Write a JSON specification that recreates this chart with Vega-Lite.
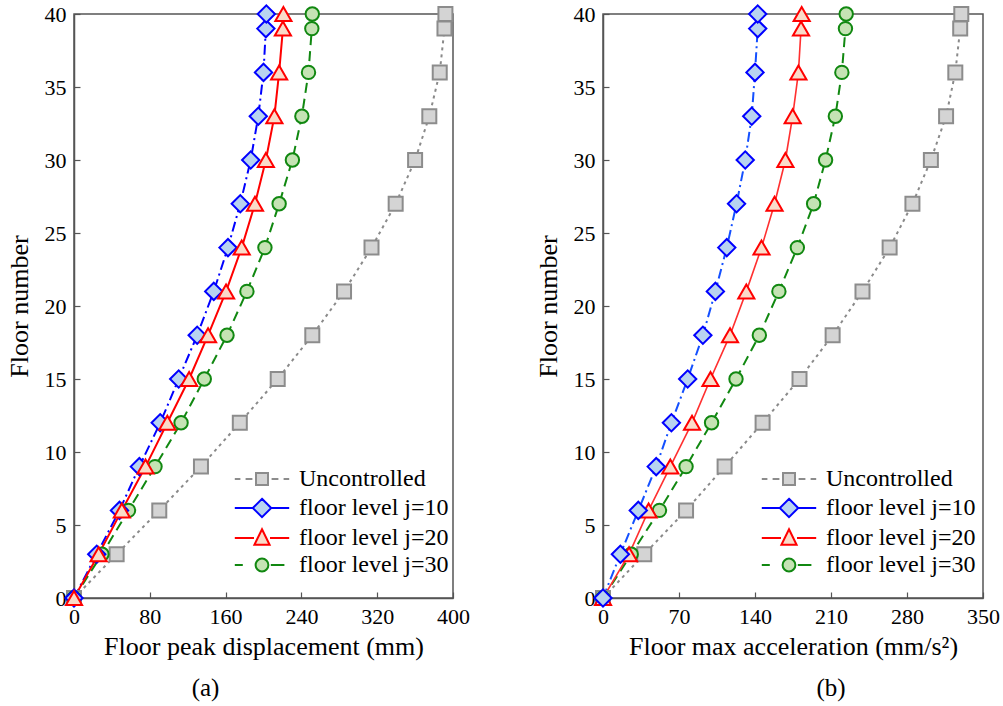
{
  "$schema": "https://vega.github.io/schema/vega-lite/v6.json",
  "padding": {"left": 5, "top": 0, "right": 0, "bottom": 0},
  "datasets": {
    "disp": [
      {"floor": 0, "value": 0, "series": "Uncontrolled"},
      {"floor": 3, "value": 45, "series": "Uncontrolled"},
      {"floor": 6, "value": 90, "series": "Uncontrolled"},
      {"floor": 9, "value": 134, "series": "Uncontrolled"},
      {"floor": 12, "value": 175, "series": "Uncontrolled"},
      {"floor": 15, "value": 215, "series": "Uncontrolled"},
      {"floor": 18, "value": 251.5, "series": "Uncontrolled"},
      {"floor": 21, "value": 285, "series": "Uncontrolled"},
      {"floor": 24, "value": 314, "series": "Uncontrolled"},
      {"floor": 27, "value": 339.5, "series": "Uncontrolled"},
      {"floor": 30, "value": 360, "series": "Uncontrolled"},
      {"floor": 33, "value": 375, "series": "Uncontrolled"},
      {"floor": 36, "value": 386, "series": "Uncontrolled"},
      {"floor": 39, "value": 391, "series": "Uncontrolled"},
      {"floor": 40, "value": 392, "series": "Uncontrolled"},
      {"floor": 0, "value": 0, "series": "floor level j=10"},
      {"floor": 3, "value": 24, "series": "floor level j=10"},
      {"floor": 6, "value": 48, "series": "floor level j=10"},
      {"floor": 9, "value": 69, "series": "floor level j=10"},
      {"floor": 12, "value": 91, "series": "floor level j=10"},
      {"floor": 15, "value": 110.5, "series": "floor level j=10"},
      {"floor": 18, "value": 130, "series": "floor level j=10"},
      {"floor": 21, "value": 147.5, "series": "floor level j=10"},
      {"floor": 24, "value": 162.5, "series": "floor level j=10"},
      {"floor": 27, "value": 175.5, "series": "floor level j=10"},
      {"floor": 30, "value": 186.5, "series": "floor level j=10"},
      {"floor": 33, "value": 194.5, "series": "floor level j=10"},
      {"floor": 36, "value": 200, "series": "floor level j=10"},
      {"floor": 39, "value": 202.5, "series": "floor level j=10"},
      {"floor": 40, "value": 203, "series": "floor level j=10"},
      {"floor": 0, "value": 0, "series": "floor level j=20"},
      {"floor": 3, "value": 26, "series": "floor level j=20"},
      {"floor": 6, "value": 50.5, "series": "floor level j=20"},
      {"floor": 9, "value": 75.5, "series": "floor level j=20"},
      {"floor": 12, "value": 98.5, "series": "floor level j=20"},
      {"floor": 15, "value": 121.5, "series": "floor level j=20"},
      {"floor": 18, "value": 141.5, "series": "floor level j=20"},
      {"floor": 21, "value": 160.5, "series": "floor level j=20"},
      {"floor": 24, "value": 177, "series": "floor level j=20"},
      {"floor": 27, "value": 191, "series": "floor level j=20"},
      {"floor": 30, "value": 202.5, "series": "floor level j=20"},
      {"floor": 33, "value": 211.5, "series": "floor level j=20"},
      {"floor": 36, "value": 216.5, "series": "floor level j=20"},
      {"floor": 39, "value": 220.5, "series": "floor level j=20"},
      {"floor": 40, "value": 221, "series": "floor level j=20"},
      {"floor": 0, "value": 0, "series": "floor level j=30"},
      {"floor": 3, "value": 29.5, "series": "floor level j=30"},
      {"floor": 6, "value": 57.5, "series": "floor level j=30"},
      {"floor": 9, "value": 85.5, "series": "floor level j=30"},
      {"floor": 12, "value": 113, "series": "floor level j=30"},
      {"floor": 15, "value": 137.5, "series": "floor level j=30"},
      {"floor": 18, "value": 161.5, "series": "floor level j=30"},
      {"floor": 21, "value": 182.5, "series": "floor level j=30"},
      {"floor": 24, "value": 201.5, "series": "floor level j=30"},
      {"floor": 27, "value": 216.5, "series": "floor level j=30"},
      {"floor": 30, "value": 230.5, "series": "floor level j=30"},
      {"floor": 33, "value": 240.5, "series": "floor level j=30"},
      {"floor": 36, "value": 247.5, "series": "floor level j=30"},
      {"floor": 39, "value": 251, "series": "floor level j=30"},
      {"floor": 40, "value": 251.5, "series": "floor level j=30"}
    ],
    "acc": [
      {"floor": 0, "value": 0, "series": "Uncontrolled"},
      {"floor": 3, "value": 38, "series": "Uncontrolled"},
      {"floor": 6, "value": 76.5, "series": "Uncontrolled"},
      {"floor": 9, "value": 112, "series": "Uncontrolled"},
      {"floor": 12, "value": 147, "series": "Uncontrolled"},
      {"floor": 15, "value": 181, "series": "Uncontrolled"},
      {"floor": 18, "value": 211.5, "series": "Uncontrolled"},
      {"floor": 21, "value": 239, "series": "Uncontrolled"},
      {"floor": 24, "value": 264, "series": "Uncontrolled"},
      {"floor": 27, "value": 285, "series": "Uncontrolled"},
      {"floor": 30, "value": 302, "series": "Uncontrolled"},
      {"floor": 33, "value": 316, "series": "Uncontrolled"},
      {"floor": 36, "value": 324.5, "series": "Uncontrolled"},
      {"floor": 39, "value": 329, "series": "Uncontrolled"},
      {"floor": 40, "value": 330, "series": "Uncontrolled"},
      {"floor": 0, "value": 0, "series": "floor level j=10"},
      {"floor": 3, "value": 16, "series": "floor level j=10"},
      {"floor": 6, "value": 32.5, "series": "floor level j=10"},
      {"floor": 9, "value": 49, "series": "floor level j=10"},
      {"floor": 12, "value": 63, "series": "floor level j=10"},
      {"floor": 15, "value": 78, "series": "floor level j=10"},
      {"floor": 18, "value": 92, "series": "floor level j=10"},
      {"floor": 21, "value": 103.5, "series": "floor level j=10"},
      {"floor": 24, "value": 114, "series": "floor level j=10"},
      {"floor": 27, "value": 123, "series": "floor level j=10"},
      {"floor": 30, "value": 131, "series": "floor level j=10"},
      {"floor": 33, "value": 137, "series": "floor level j=10"},
      {"floor": 36, "value": 140, "series": "floor level j=10"},
      {"floor": 39, "value": 142.5, "series": "floor level j=10"},
      {"floor": 40, "value": 142.5, "series": "floor level j=10"},
      {"floor": 0, "value": 0, "series": "floor level j=20"},
      {"floor": 3, "value": 24, "series": "floor level j=20"},
      {"floor": 6, "value": 42, "series": "floor level j=20"},
      {"floor": 9, "value": 62, "series": "floor level j=20"},
      {"floor": 12, "value": 82, "series": "floor level j=20"},
      {"floor": 15, "value": 99, "series": "floor level j=20"},
      {"floor": 18, "value": 117, "series": "floor level j=20"},
      {"floor": 21, "value": 132, "series": "floor level j=20"},
      {"floor": 24, "value": 146, "series": "floor level j=20"},
      {"floor": 27, "value": 158, "series": "floor level j=20"},
      {"floor": 30, "value": 168, "series": "floor level j=20"},
      {"floor": 33, "value": 174.7, "series": "floor level j=20"},
      {"floor": 36, "value": 180, "series": "floor level j=20"},
      {"floor": 39, "value": 182.4, "series": "floor level j=20"},
      {"floor": 40, "value": 183, "series": "floor level j=20"},
      {"floor": 0, "value": 0, "series": "floor level j=30"},
      {"floor": 3, "value": 26, "series": "floor level j=30"},
      {"floor": 6, "value": 52, "series": "floor level j=30"},
      {"floor": 9, "value": 76.5, "series": "floor level j=30"},
      {"floor": 12, "value": 100, "series": "floor level j=30"},
      {"floor": 15, "value": 122.5, "series": "floor level j=30"},
      {"floor": 18, "value": 144, "series": "floor level j=30"},
      {"floor": 21, "value": 162, "series": "floor level j=30"},
      {"floor": 24, "value": 179, "series": "floor level j=30"},
      {"floor": 27, "value": 194, "series": "floor level j=30"},
      {"floor": 30, "value": 205, "series": "floor level j=30"},
      {"floor": 33, "value": 214, "series": "floor level j=30"},
      {"floor": 36, "value": 220, "series": "floor level j=30"},
      {"floor": 39, "value": 223.3, "series": "floor level j=30"},
      {"floor": 40, "value": 224, "series": "floor level j=30"}
    ]
  },
  "config": {
    "font": "Liberation Serif",
    "view": {"stroke": "#555555", "strokeWidth": 1.5},
    "axis": {
      "grid": false,
      "labelFont": "Liberation Serif",
      "labelFontSize": 22,
      "labelColor": "#000000",
      "titleFont": "Liberation Serif",
      "titleFontSize": 26,
      "titleFontWeight": "normal",
      "titleColor": "#000000",
      "domainColor": "#555555",
      "domainWidth": 1.5,
      "tickColor": "#555555",
      "tickWidth": 1.2,
      "tickSize": -6,
      "labelFlush": false
    },
    "axisX": {"labelPadding": 14, "titlePadding": 6},
    "axisY": {"labelPadding": 14, "titlePadding": 12},
    "legend": {"orient": "none", "legendY": 453, "title": null, "symbolSize": 256, "symbolStrokeWidth": 2, "symbolOffset": 18, "labelOffset": 25, "labelFont": "Liberation Serif", "labelFontSize": 24, "labelColor": "#000000", "rowPadding": 3, "padding": 0, "symbolOpacity": 1},
    "title": {"font": "Liberation Serif", "fontSize": 25, "fontWeight": "normal", "color": "#000000"}
  },
  "spacing": 63,
  "resolve": {
    "scale": {"stroke": "independent", "fill": "independent", "shape": "independent"},
    "legend": {"stroke": "independent", "fill": "independent", "shape": "independent"}
  },
  "hconcat": [
    {
      "width": 379,
      "height": 584,
      "title": {"text": "(a)", "orient": "bottom", "offset": 17, "anchor": "middle", "frame": "group", "dx": -58},
      "data": {"name": "disp"},
      "encoding": {
        "x": {"field": "value", "type": "quantitative", "scale": {"domain": [0, 400], "nice": false}, "axis": {"values": [0, 80, 160, 240, 320, 400], "title": "Floor peak displacement (mm)"}},
        "y": {"field": "floor", "type": "quantitative", "scale": {"domain": [0, 40], "nice": false}, "axis": {"values": [0, 5, 10, 15, 20, 25, 30, 35, 40], "title": "Floor number"}},
        "order": {"field": "floor", "type": "quantitative"}
      },
      "layer": [
        {"transform": [{"filter": {"field": "series", "equal": "Uncontrolled"}}], "mark": {"type": "line", "stroke": "#8a8a8a", "strokeWidth": 2, "strokeDash": [3, 4], "clip": false}},
        {"transform": [{"filter": {"field": "series", "equal": "floor level j=30"}}], "mark": {"type": "line", "stroke": "#118811", "strokeWidth": 2, "strokeDash": [10, 6], "clip": false}},
        {"transform": [{"filter": {"field": "series", "equal": "floor level j=10"}}], "mark": {"type": "line", "stroke": "#0000ff", "strokeWidth": 2, "strokeDash": [10, 4, 2, 4], "clip": false}},
        {"transform": [{"filter": {"field": "series", "equal": "floor level j=20"}}], "mark": {"type": "line", "stroke": "#ff0000", "strokeWidth": 2, "clip": false}},
        {"transform": [{"filter": {"field": "series", "equal": "Uncontrolled"}}], "mark": {"type": "point", "shape": "square", "size": 196, "strokeWidth": 2, "stroke": "#8c8c8c", "fill": "#d4d4d4", "opacity": 1, "clip": false}},
        {"transform": [{"filter": {"field": "series", "equal": "floor level j=30"}}], "mark": {"type": "point", "shape": "circle", "size": 180, "strokeWidth": 2, "stroke": "#118811", "fill": "#c5e3b4", "opacity": 1, "clip": false}},
        {"transform": [{"filter": {"field": "series", "equal": "floor level j=10"}}], "mark": {"type": "point", "shape": "diamond", "size": 300, "strokeWidth": 2, "stroke": "#0000ff", "fill": "#b8d3f0", "opacity": 1, "clip": false}},
        {"transform": [{"filter": {"field": "series", "equal": "floor level j=20"}}], "mark": {"type": "point", "shape": "triangle-up", "size": 260, "strokeWidth": 2, "stroke": "#ff0000", "fill": "#fadbc9", "opacity": 1, "clip": false}},
        {
          "transform": [{"filter": "datum.floor < 0"}],
          "mark": {"type": "point", "opacity": 1, "strokeWidth": 2},
          "encoding": {
            "shape": {"field": "series", "type": "nominal", "scale": {"domain": ["Uncontrolled", "floor level j=10", "floor level j=20", "floor level j=30"], "range": ["M-3.4,0H-2.7M-2.05,0H-1.2M1.2,0H2.05M2.7,0H3.4M-0.75,-0.75H0.75V0.75H-0.75Z", "M-3.4,0H-1.15M1.15,0H3.4M0,-1.15L1.15,0L0,1.15L-1.15,0Z", "M-3.4,0H-1M1,0H3.4M0,-1.1L0.95,0.85H-0.95Z", "M-3.4,0H-2.4M1.1,0H2.8M-0.8,0A0.8,0.8 0 1,0 0.8,0A0.8,0.8 0 1,0 -0.8,0Z"]}, "legend": {"legendX": 158}},
            "stroke": {"field": "series", "type": "nominal", "scale": {"domain": ["Uncontrolled", "floor level j=10", "floor level j=20", "floor level j=30"], "range": ["#8c8c8c", "#0000ff", "#ff0000", "#118811"]}, "legend": {"legendX": 158}},
            "fill": {"field": "series", "type": "nominal", "scale": {"domain": ["Uncontrolled", "floor level j=10", "floor level j=20", "floor level j=30"], "range": ["#d4d4d4", "#b8d3f0", "#fadbc9", "#c5e3b4"]}, "legend": {"legendX": 158}}
          }
        }
      ]
    },
    {
      "width": 380,
      "height": 584,
      "title": {"text": "(b)", "orient": "bottom", "offset": 17, "anchor": "middle", "frame": "group", "dx": 38},
      "data": {"name": "acc"},
      "encoding": {
        "x": {"field": "value", "type": "quantitative", "scale": {"domain": [0, 350], "nice": false}, "axis": {"values": [0, 70, 140, 210, 280, 350], "title": "Floor max acceleration (mm/s²)"}},
        "y": {"field": "floor", "type": "quantitative", "scale": {"domain": [0, 40], "nice": false}, "axis": {"values": [0, 5, 10, 15, 20, 25, 30, 35, 40], "title": "Floor number"}},
        "order": {"field": "floor", "type": "quantitative"}
      },
      "layer": [
        {"transform": [{"filter": {"field": "series", "equal": "Uncontrolled"}}], "mark": {"type": "line", "stroke": "#8a8a8a", "strokeWidth": 2, "strokeDash": [3, 4], "clip": false}},
        {"transform": [{"filter": {"field": "series", "equal": "floor level j=30"}}], "mark": {"type": "line", "stroke": "#118811", "strokeWidth": 2, "strokeDash": [10, 6], "clip": false}},
        {"transform": [{"filter": {"field": "series", "equal": "floor level j=10"}}], "mark": {"type": "line", "stroke": "#1450ff", "strokeWidth": 2, "strokeDash": [10, 4, 2, 4], "clip": false}},
        {"transform": [{"filter": {"field": "series", "equal": "floor level j=20"}}], "mark": {"type": "line", "stroke": "#ff3030", "strokeWidth": 1.6, "clip": false}},
        {"transform": [{"filter": {"field": "series", "equal": "Uncontrolled"}}], "mark": {"type": "point", "shape": "square", "size": 196, "strokeWidth": 2, "stroke": "#8c8c8c", "fill": "#d4d4d4", "opacity": 1, "clip": false}},
        {"transform": [{"filter": {"field": "series", "equal": "floor level j=30"}}], "mark": {"type": "point", "shape": "circle", "size": 180, "strokeWidth": 2, "stroke": "#118811", "fill": "#c5e3b4", "opacity": 1, "clip": false}},
        {"transform": [{"filter": {"field": "series", "equal": "floor level j=20"}}], "mark": {"type": "point", "shape": "triangle-up", "size": 260, "strokeWidth": 2, "stroke": "#ff0000", "fill": "#fadbc9", "opacity": 1, "clip": false}},
        {"transform": [{"filter": {"field": "series", "equal": "floor level j=10"}}], "mark": {"type": "point", "shape": "diamond", "size": 300, "strokeWidth": 2, "stroke": "#0000ff", "fill": "#b8d3f0", "opacity": 1, "clip": false}},
        {
          "transform": [{"filter": "datum.floor < 0"}],
          "mark": {"type": "point", "opacity": 1, "strokeWidth": 2},
          "encoding": {
            "shape": {"field": "series", "type": "nominal", "scale": {"domain": ["Uncontrolled", "floor level j=10", "floor level j=20", "floor level j=30"], "range": ["M-3.4,0H-2.7M-2.05,0H-1.2M1.2,0H2.05M2.7,0H3.4M-0.75,-0.75H0.75V0.75H-0.75Z", "M-3.4,0H-1.15M1.15,0H3.4M0,-1.15L1.15,0L0,1.15L-1.15,0Z", "M-3.4,0H-1M1,0H3.4M0,-1.1L0.95,0.85H-0.95Z", "M-3.4,0H-2.4M1.1,0H2.8M-0.8,0A0.8,0.8 0 1,0 0.8,0A0.8,0.8 0 1,0 -0.8,0Z"]}, "legend": {"legendX": 156}},
            "stroke": {"field": "series", "type": "nominal", "scale": {"domain": ["Uncontrolled", "floor level j=10", "floor level j=20", "floor level j=30"], "range": ["#8c8c8c", "#0000ff", "#ff0000", "#118811"]}, "legend": {"legendX": 156}},
            "fill": {"field": "series", "type": "nominal", "scale": {"domain": ["Uncontrolled", "floor level j=10", "floor level j=20", "floor level j=30"], "range": ["#d4d4d4", "#b8d3f0", "#fadbc9", "#c5e3b4"]}, "legend": {"legendX": 156}}
          }
        }
      ]
    }
  ]
}
